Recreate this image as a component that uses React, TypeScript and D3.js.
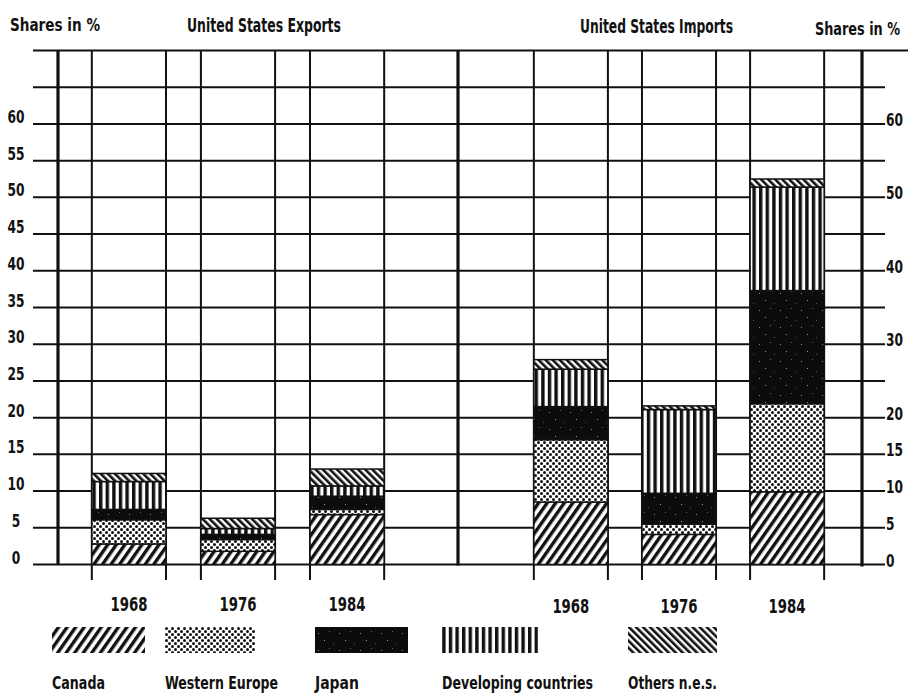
import React from "react";
import * as d3 from "d3";

// ---------- data ----------
const years = ["1968", "1976", "1984"];
const seriesNames = ["Canada", "Western Europe", "Japan", "Developing countries", "Others n.e.s."];

const exportsCanada = [2.8, 1.8, 6.8];
const exportsWesternEurope = [3.3, 1.6, 0.7];
const exportsJapan = [1.4, 0.7, 1.8];
const exportsDeveloping = [3.8, 0.8, 1.4];
const exportsOthers = [1.1, 1.4, 2.3];

const importsCanada = [8.5, 4.1, 9.9];
const importsWesternEurope = [8.5, 1.4, 12.0];
const importsJapan = [4.5, 4.2, 15.4];
const importsDeveloping = [5.1, 11.4, 14.1];
const importsOthers = [1.3, 0.5, 1.1];

const gridValues = [0, 5, 10, 15, 20, 25, 30, 35, 40, 45, 50, 55, 60, 65, 70];
const leftTicks = [0, 5, 10, 15, 20, 25, 30, 35, 40, 45, 50, 55, 60];
const rightTicks = [0, 5, 10, 15, 20, 30, 40, 50, 60];

const patternIds = ["pCanada", "pWE", "pJapan", "pDev", "pOthers"];

const FONT = "'Liberation Sans Narrow', 'DejaVu Sans Condensed', 'Arial Narrow', sans-serif";

function buildRows(series: number[][]) {
  return years.map((y, i) => {
    const row: any = { year: y };
    seriesNames.forEach((s, k) => (row[s] = series[k][i]));
    return row;
  });
}

const exportRows = buildRows([exportsCanada, exportsWesternEurope, exportsJapan, exportsDeveloping, exportsOthers]);
const importRows = buildRows([importsCanada, importsWesternEurope, importsJapan, importsDeveloping, importsOthers]);

export default function App() {
  const W = 908;
  const H = 693;
  const y = d3.scaleLinear().domain([0, 70]).range([564.5, 50.5]);

  const xLeft = d3.scaleBand<string>().domain(years).range([58, 418]).paddingInner(0.32).paddingOuter(0.31);
  const xRight = d3.scaleBand<string>().domain(years).range([496, 862]).paddingInner(0.315).paddingOuter(0.35);

  const stack = d3.stack<any>().keys(seriesNames);
  const expStack = stack(exportRows);
  const impStack = stack(importRows);

  const leftAxisX = 58;
  const midX = 458;
  const rightAxisX = 862;

  const renderBars = (st: any[], x: d3.ScaleBand<string>, key: string) =>
    st.map((layer, k) =>
      layer.map((d: any, i: number) => (
        <rect
          key={`${key}-${k}-${i}`}
          x={x(years[i])}
          y={y(d[1])}
          width={x.bandwidth()}
          height={y(d[0]) - y(d[1])}
          fill={`url(#${patternIds[k]})`}
          stroke="#111"
          strokeWidth={1.5}
        />
      ))
    );

  const barEdges = (x: d3.ScaleBand<string>) =>
    years.flatMap((yr) => [x(yr)!, x(yr)! + x.bandwidth()]);

  const edges = [...barEdges(xLeft), ...barEdges(xRight)];

  const legendX = [52, 165, 315, 442, 628];
  const legendW = [93, 90, 93, 96, 89];
  const legendTextW = [53, 113, 44, 151, 89];

  const txt = { fontWeight: "bold" as const, fill: "#111", lengthAdjust: "spacingAndGlyphs" as const };

  return (
    <svg
      width={W}
      height={H}
      style={{ position: "absolute", left: 0, top: 0, background: "#fff", display: "block" }}
      fontFamily={FONT}
    >
      <defs>
        <pattern id="pCanada" width={7} height={7} patternUnits="userSpaceOnUse" patternTransform="rotate(35)">
          <rect width={7} height={7} fill="#fff" />
          <rect x={0} y={0} width={3.4} height={7} fill="#111" />
        </pattern>
        <pattern id="pWE" width={6} height={6} patternUnits="userSpaceOnUse">
          <rect width={6} height={6} fill="#fff" />
          <circle cx={1.5} cy={1.5} r={1.5} fill="#111" />
          <circle cx={4.5} cy={4.5} r={1.5} fill="#111" />
        </pattern>
        <pattern id="pJapan" width={21} height={17} patternUnits="userSpaceOnUse">
          <rect width={21} height={17} fill="#0c0c0c" />
          <rect x={3} y={4} width={1} height={1} fill="#888" />
          <rect x={14} y={2} width={1} height={1} fill="#666" />
          <rect x={9} y={11} width={1} height={1} fill="#999" />
          <rect x={18} y={14} width={1} height={1} fill="#555" />
        </pattern>
        <pattern id="pDev" width={6.6} height={10} patternUnits="userSpaceOnUse">
          <rect width={6.6} height={10} fill="#fff" />
          <rect x={0} y={0} width={3.4} height={10} fill="#111" />
        </pattern>
        <pattern id="pOthers" width={5} height={5} patternUnits="userSpaceOnUse" patternTransform="rotate(-45)">
          <rect width={5} height={5} fill="#fff" />
          <rect x={0} y={0} width={2.6} height={5} fill="#111" />
        </pattern>
      </defs>

      {/* horizontal grid lines */}
      {gridValues.map((v) => (
        <line
          key={`h${v}`}
          x1={33}
          x2={v === 70 ? 908 : 885}
          y1={y(v)}
          y2={y(v)}
          stroke="#111"
          strokeWidth={2}
        />
      ))}

      {/* vertical lines at bar edges */}
      {edges.map((ex, i) => (
        <line key={`v${i}`} x1={ex} x2={ex} y1={y(70)} y2={580} stroke="#111" strokeWidth={2} />
      ))}

      {/* axes */}
      <line x1={leftAxisX} x2={leftAxisX} y1={y(70)} y2={y(0)} stroke="#111" strokeWidth={3.2} />
      <line x1={midX} x2={midX} y1={y(70)} y2={y(0) + 1} stroke="#111" strokeWidth={3.2} />
      <line x1={rightAxisX} x2={rightAxisX} y1={y(70)} y2={y(0) + 2} stroke="#111" strokeWidth={3.2} />

      {/* bars */}
      {renderBars(expStack, xLeft, "e")}
      {renderBars(impStack, xRight, "i")}

      {/* left tick labels */}
      {leftTicks.map((t) => (
        <text key={`lt${t}`} x={16} y={y(t) - 1} textAnchor="middle" fontSize={18} textLength={String(t).length * 8.5} {...txt}>
          {t}
        </text>
      ))}
      {/* right tick labels */}
      {rightTicks.map((t) => (
        <text key={`rt${t}`} x={886} y={y(t) + 2} textAnchor="start" fontSize={17} textLength={String(t).length * 8.5} {...txt}>
          {t}
        </text>
      ))}

      {/* titles */}
      <text x={10} y={31} fontSize={18} textLength={90} {...txt}>Shares in %</text>
      <text x={187} y={32} fontSize={19} textLength={154} {...txt}>United States Exports</text>
      <text x={580} y={33} fontSize={19} textLength={153} {...txt}>United States Imports</text>
      <text x={900} y={35} textAnchor="end" fontSize={17} textLength={85} {...txt}>Shares in %</text>

      {/* year labels */}
      {years.map((yr) => (
        <text key={`yl${yr}`} x={xLeft(yr)! + xLeft.bandwidth() / 2} y={611} textAnchor="middle" fontSize={19} textLength={37} {...txt}>
          {yr}
        </text>
      ))}
      {years.map((yr) => (
        <text key={`yr${yr}`} x={xRight(yr)! + xRight.bandwidth() / 2} y={613} textAnchor="middle" fontSize={19} textLength={37} {...txt}>
          {yr}
        </text>
      ))}

      {/* legend */}
      {seriesNames.map((s, k) => (
        <g key={`lg${k}`}>
          <rect x={legendX[k]} y={627} width={legendW[k]} height={26} fill={`url(#${patternIds[k]})`} />
          <text x={legendX[k]} y={689} fontSize={17.5} textLength={legendTextW[k]} {...txt}>
            {s}
          </text>
        </g>
      ))}
    </svg>
  );
}
